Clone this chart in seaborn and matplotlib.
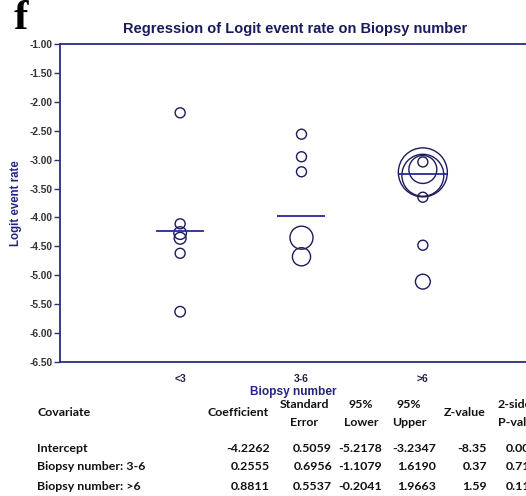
import matplotlib
matplotlib.use("Agg")
import matplotlib.pyplot as plt
import seaborn as sns
import pandas as pd
import numpy as np

# ---- data ----
categories = ["<3", "3-6", ">6"]
group_lt3 = [-2.19, -4.11, -4.27, -4.36, -4.62, -5.63]
weight_lt3 = [1.0, 1.0, 1.6, 1.4, 1.0, 1.1]
group_3to6 = [-2.56, -2.95, -3.21, -4.35, -4.68]
weight_3to6 = [1.0, 1.0, 1.0, 5.3, 3.3]
group_gt6 = [-3.04, -3.17, -3.22, -3.27, -3.65, -4.48, -5.11]
weight_gt6 = [1.0, 7.8, 24.0, 17.6, 1.0, 1.0, 2.2]
group_means = [-4.2262, -3.97, -3.25]

yticks = [-1.0, -1.5, -2.0, -2.5, -3.0, -3.5, -4.0, -4.5, -5.0, -5.5, -6.0, -6.5]

covariates = ["Intercept", "Biopsy number: 3-6", "Biopsy number: >6"]
coef = ["-4.2262", "0.2555", "0.8811"]
std_err = ["0.5059", "0.6956", "0.5537"]
lower95 = ["-5.2178", "-1.1079", "-0.2041"]
upper95 = ["-3.2347", "1.6190", "1.9663"]
zval = ["-8.35", "0.37", "1.59"]
pval = ["0.0000", "0.7134", "0.1115"]

# ---- build table for seaborn ----
df = pd.DataFrame({
    "group": [categories[0]] * len(group_lt3) + [categories[1]] * len(group_3to6)
             + [categories[2]] * len(group_gt6),
    "rate": group_lt3 + group_3to6 + group_gt6,
    "weight": weight_lt3 + weight_3to6 + weight_gt6,
})
df["pos"] = pd.Categorical(df["group"], categories=categories).codes
means_df = pd.DataFrame({"pos": np.arange(len(categories)), "mean": group_means})

navy = "#1c1c5c"
line_blue = "#2a2a95"
spine_col = "#2d2d7d"

sns.set_theme(style="white")
plt.rcParams["font.family"] = ["Liberation Sans", "DejaVu Sans"]

W, H = 526, 496
fig = plt.figure(figsize=(W / 100, H / 100), dpi=100)
ax = fig.add_axes([60 / W, 1 - 362 / H, 1 - 60 / W, (362 - 44) / H])

sns.scatterplot(data=df, x="pos", y="rate", size="weight",
                sizes=(0, 1245), size_norm=(0, 24),
                facecolor="none", edgecolor=navy, linewidth=1.0,
                legend=False, ax=ax, zorder=3)
sns.scatterplot(data=means_df, x="pos", y="mean", marker="_", s=1190,
                color=line_blue, linewidth=1.3, legend=False, ax=ax, zorder=4)

ax.set_xlim(-0.99, 2.85)
ax.set_ylim(-6.5, -1.0)
ax.set_yticks(yticks)
ax.set_yticklabels([f"{v:.2f}" for v in yticks], fontsize=7.3, fontweight="bold",
                   color="#333333")
ax.set_xticks(range(len(categories)))
ax.set_xticklabels(categories, fontsize=7.5, fontweight="bold", color="#222244")
ax.tick_params(axis="y", which="both", left=True, length=4, width=1,
               color=spine_col, pad=1.5)
ax.tick_params(axis="x", bottom=False, pad=3)

for side in ["left", "bottom", "top"]:
    ax.spines[side].set_color(spine_col)
    ax.spines[side].set_linewidth(1.3)
ax.spines["right"].set_visible(False)

ax.set_xlabel("Biopsy number", fontsize=8.6, fontweight="bold", color="#252580",
              labelpad=1)
ax.set_ylabel("Logit event rate", fontsize=8.3, fontweight="bold", color="#252580",
              labelpad=5)

fig.text(295 / W, 1 - 29 / H, "Regression of Logit event rate on Biopsy number",
         ha="center", va="center", fontsize=10.5, fontweight="bold", color="#1a1a60")
fig.text(14 / W, 1 - 0 / H, "f", ha="left", va="top", fontsize=31,
         fontweight="bold", family=["Liberation Serif", "DejaVu Serif"], color="black")

# ---- coefficient table ----
tfont = dict(family=["Lato", "DejaVu Sans"], fontweight="bold", fontsize=8.9,
             color="#111111")

def fy(y):
    return 1 - y / H

fig.text(37 / W, fy(413), "Covariate", ha="left", va="center", **tfont)
fig.text(238 / W, fy(413), "Coefficient", ha="center", va="center", **tfont)
fig.text(304 / W, fy(404), "Standard", ha="center", va="center", **tfont)
fig.text(304 / W, fy(422), "Error", ha="center", va="center", **tfont)
fig.text(361 / W, fy(404), "95%", ha="center", va="center", **tfont)
fig.text(361 / W, fy(422), "Lower", ha="center", va="center", **tfont)
fig.text(409 / W, fy(404), "95%", ha="center", va="center", **tfont)
fig.text(409 / W, fy(422), "Upper", ha="center", va="center", **tfont)
fig.text(465 / W, fy(413), "Z-value", ha="center", va="center", **tfont)
fig.text(498 / W, fy(404), "2-sided", ha="left", va="center", **tfont)
fig.text(498 / W, fy(422), "P-value", ha="left", va="center", **tfont)

row_y = [448, 467, 486]
for i, y in enumerate(row_y):
    fig.text(37 / W, fy(y), covariates[i], ha="left", va="center", **tfont)
    fig.text(270 / W, fy(y), coef[i], ha="right", va="center", **tfont)
    fig.text(332 / W, fy(y), std_err[i], ha="right", va="center", **tfont)
    fig.text(382 / W, fy(y), lower95[i], ha="right", va="center", **tfont)
    fig.text(436 / W, fy(y), upper95[i], ha="right", va="center", **tfont)
    fig.text(487 / W, fy(y), zval[i], ha="right", va="center", **tfont)
    fig.text(506 / W, fy(y), pval[i], ha="left", va="center", **tfont)

fig.savefig("out.png", dpi=100)
